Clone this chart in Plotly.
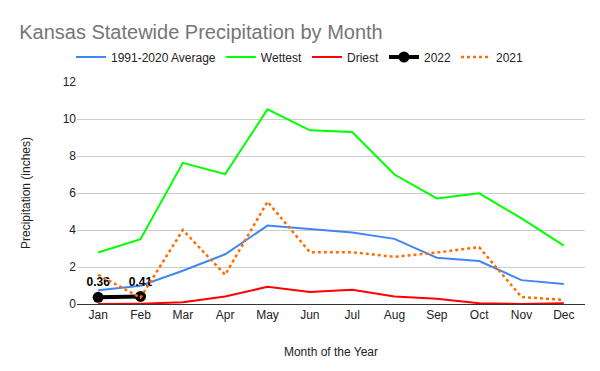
import plotly.graph_objects as go

months = ["Jan", "Feb", "Mar", "Apr", "May", "Jun", "Jul", "Aug", "Sep", "Oct", "Nov", "Dec"]
average = [0.74, 0.99, 1.80, 2.69, 4.24, 4.06, 3.86, 3.52, 2.50, 2.32, 1.29, 1.08]
wettest = [2.78, 3.50, 7.63, 7.02, 10.52, 9.39, 9.30, 7.00, 5.71, 5.98, 4.63, 3.16]
driest = [0.00, 0.02, 0.09, 0.41, 0.93, 0.65, 0.77, 0.41, 0.29, 0.04, 0.00, 0.04]
y2022_months = ["Jan", "Feb"]
y2022 = [0.36, 0.41]
y2021 = [1.58, 0.34, 4.00, 1.58, 5.53, 2.80, 2.80, 2.55, 2.78, 3.07, 0.38, 0.22]

font = "Liberation Sans, Arial, sans-serif"

fig = go.Figure()
fig.add_trace(go.Scatter(x=months, y=average, name="1991-2020 Average", mode="lines",
                         line=dict(color="#4285f4", width=2)))
fig.add_trace(go.Scatter(x=months, y=wettest, name="Wettest", mode="lines",
                         line=dict(color="#00ff00", width=2)))
fig.add_trace(go.Scatter(x=months, y=driest, name="Driest", mode="lines",
                         line=dict(color="#ff0000", width=2)))
fig.add_trace(go.Scatter(x=y2022_months, y=y2022, name="2022", mode="lines+markers+text",
                         line=dict(color="#000000", width=4),
                         marker=dict(color="#000000", size=11),
                         text=[f"{v:.2f}" for v in y2022], textposition="top center",
                         textfont=dict(family=font, size=12, color="#000000", weight="bold")))
fig.add_trace(go.Scatter(x=months, y=y2021, name="2021", mode="lines",
                         line=dict(color="#ff6d01", width=2.5, dash="dot")))

fig.update_layout(
    width=600, height=371,
    paper_bgcolor="white", plot_bgcolor="white",
    margin=dict(l=77, r=15, t=82, b=67, autoexpand=False),
    font=dict(family=font, size=12, color="#222222"),
    title=dict(text="Kansas Statewide Precipitation by Month", xref="container", x=0.032,
               xanchor="left", yref="container", y=1 - 32 / 371, yanchor="middle",
               font=dict(family=font, size=20, color="#757575")),
    legend=dict(orientation="h", xref="container", x=0.5, xanchor="center",
                yref="container", y=1 - 57 / 371, yanchor="middle",
                font=dict(family=font, size=12, color="#222222"), itemwidth=30,
                bgcolor="rgba(0,0,0,0)"),
    showlegend=True,
)
fig.update_xaxes(
    type="category", categoryorder="array", categoryarray=months, range=[-0.5, 11.5],
    showgrid=False, showline=True, linecolor="#333333", linewidth=1,
    ticks="", tickfont=dict(size=12, color="#222222"), automargin=False,
    title=dict(text="Month of the Year", font=dict(size=12, color="#222222"), standoff=26),
)
fig.update_yaxes(
    range=[0, 12], dtick=2, showgrid=True, gridcolor="#cccccc", gridwidth=1,
    zeroline=False, ticks="", tickfont=dict(size=12, color="#222222"), automargin=False,
    title=dict(text="Precipitation (inches)", font=dict(size=12, color="#222222"), standoff=29),
)

fig.write_html("out.html", config={"displayModeBar": False},
               post_script="document.body.style.margin='0';document.body.style.padding='0';")
